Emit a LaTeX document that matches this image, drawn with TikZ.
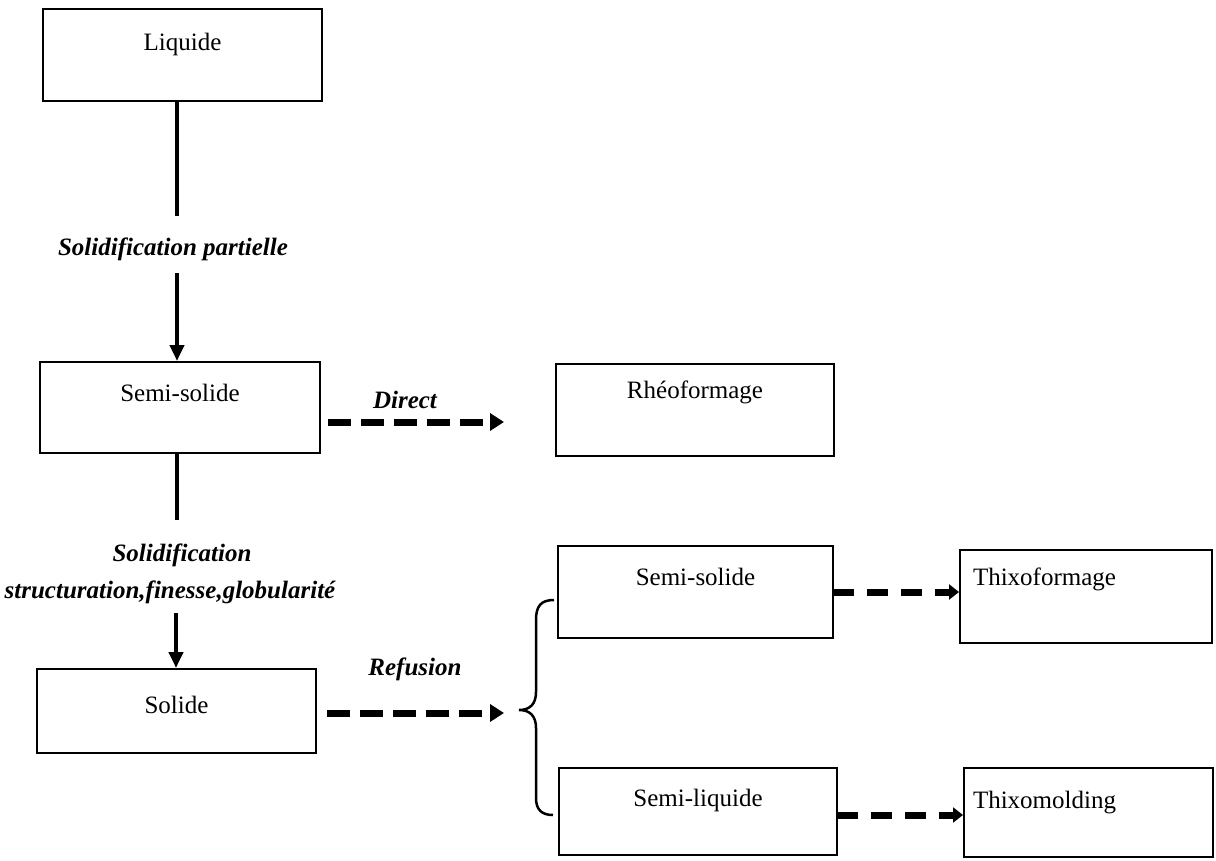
\documentclass[tikz,border=0pt]{standalone}
\usepackage{fontspec}
\setmainfont{Liberation Serif}
\usetikzlibrary{arrows.meta}
\begin{document}
\begin{tikzpicture}[x=1pt,y=-1pt,
  box/.style={draw,line width=2pt,inner sep=0pt,anchor=center,font=\fontsize{25}{30}\selectfont},
  lbl/.style={inner sep=0pt,font=\fontsize{25}{30}\selectfont\bfseries\itshape},
  plainline/.style={line width=4.5pt},
  solidarrow/.style={line width=4.5pt,-{Triangle[length=16pt,width=14pt]}},
  dasharrow/.style={line width=7pt,dash pattern=on 23pt off 10pt,-{Triangle[length=14pt,width=17pt]}},
  thixoarrow/.style={line width=7pt,dash pattern=on 21pt off 13pt,-{Triangle[length=10pt,width=15pt]}},
  bracestyle/.style={line width=2.5pt}
]
\useasboundingbox (0,0) rectangle (1216,860);

% boxes
\node[box,minimum width=279pt,minimum height=92pt,text height=41pt,text depth=51pt] (liq) at (182.5,55) {Liquide};
\node[box,minimum width=280pt,minimum height=91pt,text height=39pt,text depth=52pt] (ss1) at (180,407.5) {Semi-solide};
\node[box,minimum width=278pt,minimum height=92pt,text height=34pt,text depth=58pt] (rheo) at (695,410) {Rhéoformage};
\node[box,minimum width=279pt,minimum height=84pt,text height=44pt,text depth=40pt] (sol) at (176.5,711) {Solide};
\node[box,minimum width=275pt,minimum height=92pt,text height=39pt,text depth=53pt] (ss2) at (695.5,592) {Semi-solide};
\node[box,minimum width=278pt,minimum height=87pt,text height=38pt,text depth=49pt] (sliq) at (698,811.5) {Semi-liquide};
\node[box,inner xsep=13pt,text width=226pt,align=left,minimum height=93pt,text height=35pt,text depth=58pt] (thf) at (1086,596.5) {Thixoformage};
\node[box,inner xsep=9pt,text width=231pt,align=left,minimum height=89pt,text height=40pt,text depth=49pt] (thm) at (1088.5,812.5) {Thixomolding};

% labels
\node[lbl] (lab1) at (173,249) {Solidification partielle};
\node[lbl] (lab2a) at (182,555) {Solidification};
\node[lbl] (lab2b) at (170,592) {structuration,finesse,globularité};
\node[lbl] (labd) at (405,400) {Direct};
\node[lbl] (labr) at (415,669) {Refusion};

% vertical connectors
\coordinate (a1) at (177,216);
\coordinate (a2) at (177,273);
\coordinate (b1) at (177,520);
\coordinate (b2) at (176,613);
\draw[plainline] (a1 |- liq.south) -- (a1);
\draw[solidarrow] (a2) -- (a2 |- ss1.north);
\draw[plainline] (b1 |- ss1.south) -- (b1);
\draw[solidarrow] (b2) -- (b2 |- sol.north);

% dashed arrows
\coordinate (d1) at (328,422);
\coordinate (d2) at (504,422);
\draw[dasharrow] (d1) -- (d2);
\coordinate (r1) at (327,713);
\coordinate (r2) at (504,713);
\draw[dasharrow] (r1) -- (r2);
\coordinate (t1) at (833,592);
\draw[thixoarrow] (t1) -- (t1 -| thf.west);
\coordinate (t2) at (837,815);
\draw[thixoarrow] (t2) -- (t2 -| thm.west);

% brace
\draw[bracestyle] (554,600) .. controls (541,600) and (536,606) .. (536,620) -- (536,692)
  .. controls (536,704) and (530,710) .. (519,710)
  .. controls (530,710) and (536,716) .. (536,728) -- (536,798)
  .. controls (536,810) and (542,815) .. (553,815);
\end{tikzpicture}
\end{document}
